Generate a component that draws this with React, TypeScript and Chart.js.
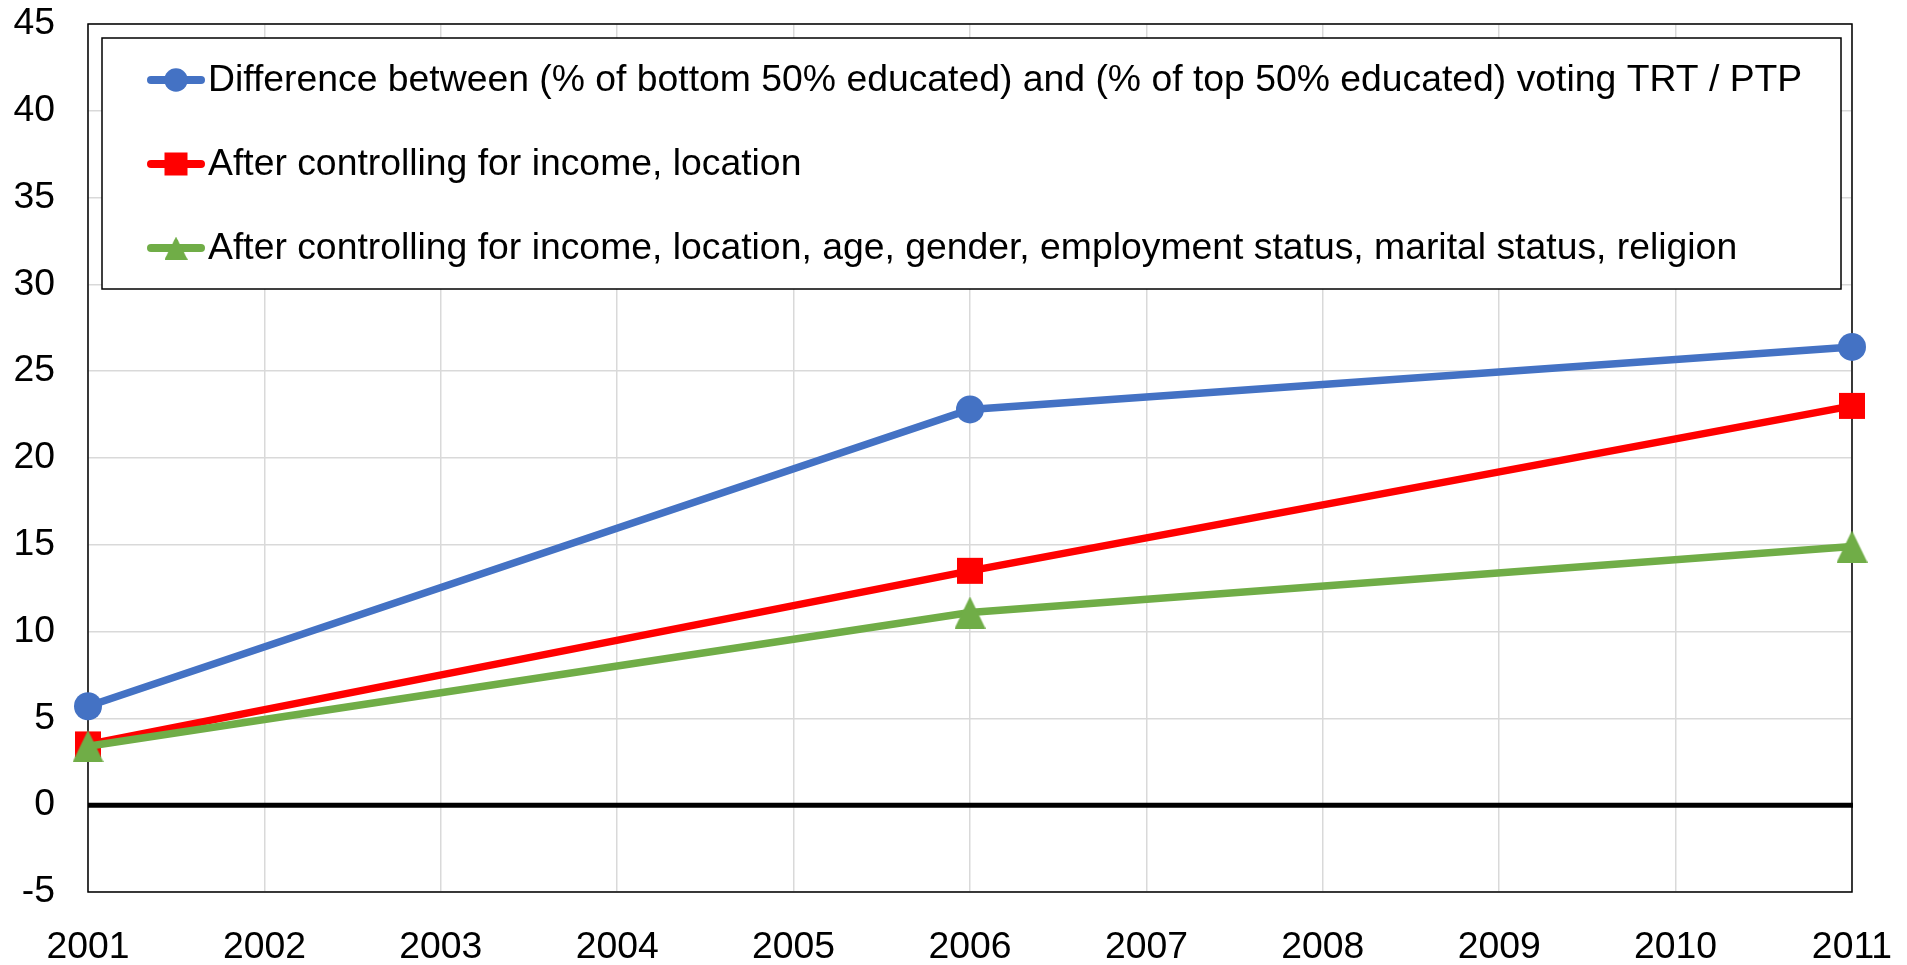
import React, { useEffect, useRef } from "react";
import { Chart, registerables } from "chart.js";

Chart.register(...registerables);

const xLabels = ["2001", "2002", "2003", "2004", "2005", "2006", "2007", "2008", "2009", "2010", "2011"];
const years = ["2001", "2006", "2011"];
const seriesNames = [
  "Difference between (% of bottom 50% educated) and (% of top 50% educated) voting TRT / PTP",
  "After controlling for income, location",
  "After controlling for income, location, age, gender, employment status, marital status, religion",
];
const difference = [5.7, 22.8, 26.4];
const ctrlIncomeLocation = [3.5, 13.5, 23.0];
const ctrlAll = [3.4, 11.1, 14.9];
const colors = ["#4472C4", "#FF0000", "#70AD47"];

const FONT = "'Liberation Sans', Arial, sans-serif";
const FS = 37.33;

function makeTriangle(w: number, h: number, color: string): HTMLCanvasElement {
  const c = document.createElement("canvas");
  c.width = w;
  c.height = h;
  const ctx = c.getContext("2d")!;
  ctx.fillStyle = color;
  ctx.beginPath();
  ctx.moveTo(w / 2, 0);
  ctx.lineTo(w, h);
  ctx.lineTo(0, h);
  ctx.closePath();
  ctx.fill();
  return c;
}

export default function App() {
  const ref = useRef<HTMLCanvasElement | null>(null);

  useEffect(() => {
    const canvas = ref.current;
    if (!canvas) return;
    const tri = makeTriangle(31, 32, colors[2]);

    const framePlugin = {
      id: "frame",
      beforeDatasetsDraw(chart: any) {
        const { ctx, chartArea } = chart;
        const y0 = chart.scales.y.getPixelForValue(0);
        ctx.save();
        ctx.strokeStyle = "#000";
        ctx.lineWidth = 1.5;
        ctx.strokeRect(chartArea.left, chartArea.top, chartArea.right - chartArea.left, chartArea.bottom - chartArea.top);
        ctx.lineWidth = 5;
        ctx.beginPath();
        ctx.moveTo(chartArea.left, y0);
        ctx.lineTo(chartArea.right + 1, y0);
        ctx.stroke();
        ctx.restore();
      },
      afterDatasetsDraw(chart: any) {
        const { ctx, chartArea } = chart;
        const bx = chartArea.left + 14;
        const by = chartArea.top + 14;
        const bw = chartArea.right - 11 - bx;
        const bh = 251;
        ctx.save();
        ctx.fillStyle = "#fff";
        ctx.fillRect(bx, by, bw, bh);
        ctx.strokeStyle = "#000";
        ctx.lineWidth = 1.5;
        ctx.strokeRect(bx, by, bw, bh);
        ctx.font = `${FS}px ${FONT}`;
        ctx.textBaseline = "middle";
        ctx.textAlign = "left";
        seriesNames.forEach((name, i) => {
          const cy = by + 42 + i * 84;
          const lx0 = chartArea.left + 63;
          const lx1 = chartArea.left + 113;
          const mx = (lx0 + lx1) / 2;
          ctx.strokeStyle = colors[i];
          ctx.lineWidth = 8;
          ctx.lineCap = "round";
          ctx.beginPath();
          ctx.moveTo(lx0, cy);
          ctx.lineTo(lx1, cy);
          ctx.stroke();
          ctx.fillStyle = colors[i];
          if (i === 0) {
            ctx.beginPath();
            ctx.arc(mx, cy, 11.7, 0, Math.PI * 2);
            ctx.fill();
          } else if (i === 1) {
            ctx.fillRect(mx - 11.5, cy - 11.5, 23, 23);
          } else {
            ctx.drawImage(tri, mx - 11.5, cy - 11.5, 23, 23);
          }
          ctx.fillStyle = "#000";
          ctx.fillText(name, chartArea.left + 120, cy + 1);
        });
        ctx.restore();
      },
    };

    const mk = (vals: number[]) => years.map((yr, i) => ({ x: yr, y: vals[i] }));

    const chart = new Chart(canvas, {
      type: "line",
      data: {
        labels: xLabels,
        datasets: [
          {
            label: seriesNames[0],
            data: mk(difference),
            borderColor: colors[0],
            backgroundColor: colors[0],
            borderWidth: 7.5,
            pointStyle: "circle",
            pointRadius: 14,
            pointBorderWidth: 0,
            clip: false,
            order: 2,
          },
          {
            label: seriesNames[1],
            data: mk(ctrlIncomeLocation),
            borderColor: colors[1],
            backgroundColor: colors[1],
            borderWidth: 7.5,
            pointStyle: "rect",
            pointRadius: 18.4,
            pointBorderWidth: 0,
            clip: false,
            order: 1,
          },
          {
            label: seriesNames[2],
            data: mk(ctrlAll),
            borderColor: colors[2],
            backgroundColor: colors[2],
            borderWidth: 7.5,
            pointStyle: tri as any,
            pointRadius: 16,
            pointBorderWidth: 0,
            clip: false,
            order: 0,
          },
        ] as any,
      },
      options: {
        responsive: false,
        animation: false,
        events: [],
        layout: { padding: { top: 24, right: 55, left: 0, bottom: 0 } },
        plugins: { legend: { display: false }, tooltip: { enabled: false } },
        scales: {
          x: {
            type: "category",
            offset: false,
            grid: { color: "#d9d9d9", lineWidth: 1.5, drawTicks: false },
            border: { display: false },
            ticks: { color: "#000", font: { family: FONT, size: FS }, padding: 33, maxRotation: 0, autoSkip: false },
            afterFit: (scale: any) => {
              scale.height = 73;
              scale.paddingLeft = 0;
              scale.paddingRight = 0;
            },
          },
          y: {
            min: -5,
            max: 45,
            grid: { color: "#d9d9d9", lineWidth: 1.5, drawTicks: false },
            border: { display: false },
            ticks: { stepSize: 5, color: "#000", font: { family: FONT, size: FS }, padding: 33 },
            afterFit: (scale: any) => {
              scale.width = 88;
              scale.paddingTop = 0;
              scale.paddingBottom = 0;
            },
          },
        },
      },
      plugins: [framePlugin],
    });
    return () => chart.destroy();
  }, []);

  return (
    <div style={{ position: "absolute", left: 0, top: 0, width: 1907, height: 965, background: "#fff" }}>
      <canvas ref={ref} width={1907} height={965} style={{ display: "block" }} />
    </div>
  );
}
